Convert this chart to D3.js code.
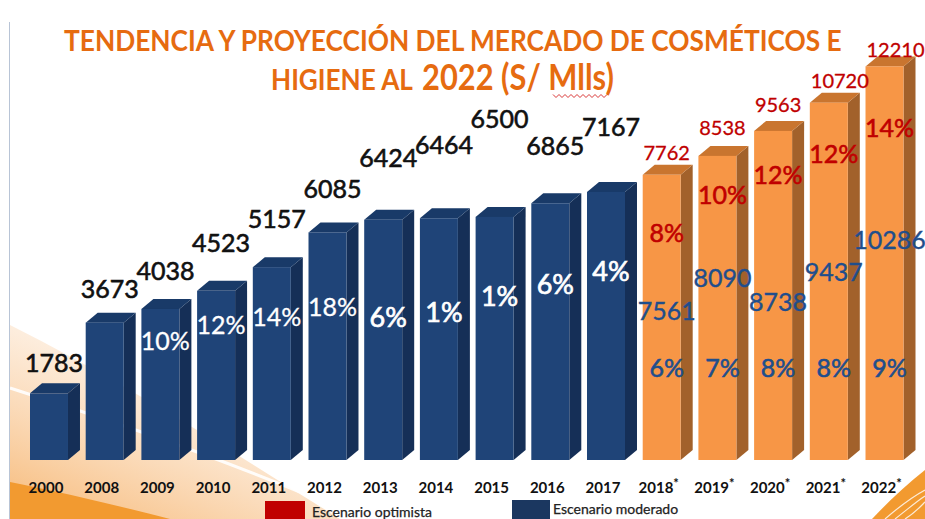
<!DOCTYPE html>
<html>
<head>
<meta charset="utf-8">
<script src="https://cdn.jsdelivr.net/npm/d3@7"></script>
<style>
  body { margin: 0; background: #fff; }
  svg { display: block; font-family: Lato, "Open Sans", sans-serif; }
</style>
</head>
<body>
<div id="chart"></div>
<script>
// Data
const histYears = ["2000", "2008", "2009", "2010", "2011", "2012", "2013", "2014", "2015", "2016", "2017"];
const histValues = [1783, 3673, 4038, 4523, 5157, 6085, 6424, 6464, 6500, 6865, 7167];
const histGrowth = [null, null, "10%", "12%", "14%", "18%", "6%", "1%", "1%", "6%", "4%"];

const projYears = ["2018", "2019", "2020", "2021", "2022"];
const optimistValues = [7762, 8538, 9563, 10720, 12210];
const optimistGrowth = ["8%", "10%", "12%", "12%", "14%"];
const moderateValues = [7561, 8090, 8738, 9437, 10286];
const moderateGrowth = ["6%", "7%", "8%", "8%", "9%"];

const legendLabels = ["Escenario optimista", "Escenario moderado"];

// Layout (label nudges, relative to each bar top)
const histLabelGap = [21, 25, 29, 39, 39, 34, 53, 64, 89, 48, 56];
const histPctDrop = [0, 0, 32, 34, 50, 75, 98, 94, 79, 81, 79];
const optValGap = [15, 21, 19, 15, 9];
const optPctDrop = [58, 39, 44, 51, 62];
const modValDrop = [136, 122, 171, 169, 174];

const width = 925, height = 519;
const baseY = 460;
const depth = { dx: 12, dy: 10 };

const colors = {
    title: "#E66B10",
    navy: "#1F4478", navySide: "#152F57", navyTop: "#193A68",
    orange: "#F79646", orangeSide: "#A2612B", orangeTop: "#C9752F",
    red: "#C00000", blue: "#1F4E8C"
};

const svg = d3.select("#chart")
    .append("svg")
    .attr("width", width)
    .attr("height", height);

const defs = svg.append("defs");
const glow = defs.append("linearGradient")
    .attr("id", "glow")
    .attr("x1", "0%").attr("y1", "100%")
    .attr("x2", "70%").attr("y2", "0%");
glow.append("stop").attr("offset", "0%").attr("stop-color", "#F39A3A").attr("stop-opacity", 0.7);
glow.append("stop").attr("offset", "100%").attr("stop-color", "#F8C08A").attr("stop-opacity", 0);

// Background swoosh
svg.append("path")
    .attr("d", "M10,325 C120,380 230,450 340,519 L10,519 Z")
    .attr("fill", "url(#glow)");
svg.append("path")
    .attr("d", "M10,388 C110,420 210,455 300,492")
    .attr("fill", "none")
    .attr("stroke", "#fff")
    .attr("stroke-width", 3)
    .attr("opacity", 0.9);
svg.append("path")
    .attr("d", "M10,482 C60,492 120,506 170,519 L10,519 Z")
    .attr("fill", "#F29A30");
svg.append("path")
    .attr("d", "M872,519 C888,502 905,486 925,470 L925,519 Z")
    .attr("fill", "#F29A30");
[0, 1, 2].forEach(i => {
    svg.append("path")
        .attr("d", `M${885 + i * 10},519 C${900 + i * 8},${506 + i * 3} ${912 + i * 5},${497 + i * 4} 925,${490 + i * 6}`)
        .attr("fill", "none")
        .attr("stroke", "#fff")
        .attr("stroke-width", 1.2)
        .attr("opacity", 0.8);
});
svg.append("line")
    .attr("x1", 9.5).attr("x2", 9.5)
    .attr("y1", 22).attr("y2", height)
    .attr("stroke", "#B8C4D6");

// Title: each piece squeezed horizontally to the width it takes in the original
function titlePiece(txt, x0, y0, size, targetWidth) {
    const t = svg.append("text")
        .attr("fill", colors.title)
        .style("font-size", size + "px")
        .style("font-weight", "bold")
        .text(txt);
    const k = targetWidth / t.node().getComputedTextLength();
    t.attr("transform", `translate(${x0},${y0}) scale(${k},1)`);
    return t;
}
titlePiece("TENDENCIA Y PROYECCIÓN DEL MERCADO DE COSMÉTICOS E", 64, 51, 29, 778);
titlePiece("HIGIENE AL", 271, 90, 29, 142);
titlePiece("2022 (S/ Mlls)", 422, 90, 36, 192);
// spell-check squiggle under "Mlls"
const squiggle = d3.range(553, 608, 3).map((x, i) => [x, 96 + (i % 2 ? 1.5 : -1.5)]);
svg.append("path")
    .attr("d", d3.line()(squiggle))
    .attr("fill", "none")
    .attr("stroke", "#D42020")
    .attr("stroke-width", 0.9);

// Scales
const allYears = histYears.concat(projYears);
const x = d3.scaleBand()
    .domain(allYears)
    .range([30, 903.5])
    .paddingInner(0.318)
    .paddingOuter(0);
const bw = x.bandwidth();

const yHist = d3.scaleLinear()
    .domain([0, 10000])
    .range([baseY, baseY - 374]);

const yProj = d3.scaleLinear()
    .domain([0, 12210])
    .range([baseY - 96, baseY - 393.6]);

// 3D bar
function drawBar(g, x0, top, front, side, lid) {
    g.append("path")
        .attr("d", `M${x0 + bw},${baseY} L${x0 + bw + depth.dx},${baseY - depth.dy} L${x0 + bw + depth.dx},${top - depth.dy} L${x0 + bw},${top} Z`)
        .attr("fill", side);
    g.append("path")
        .attr("d", `M${x0},${top} L${x0 + depth.dx},${top - depth.dy} L${x0 + bw + depth.dx},${top - depth.dy} L${x0 + bw},${top} Z`)
        .attr("fill", lid);
    g.append("rect")
        .attr("x", x0).attr("y", top)
        .attr("width", bw).attr("height", baseY - top)
        .attr("fill", front);
}

const bars = svg.append("g");
histYears.forEach((yr, i) => {
    drawBar(bars, x(yr), yHist(histValues[i]), colors.navy, colors.navySide, colors.navyTop);
});
projYears.forEach((yr, i) => {
    drawBar(bars, x(yr), yProj(optimistValues[i]), colors.orange, colors.orangeSide, colors.orangeTop);
});

// helper for labels drawn a little heavier
function label(g, x0, y0, txt, fill, size, heavy) {
    return g.append("text")
        .attr("x", x0).attr("y", y0)
        .attr("text-anchor", "middle")
        .attr("fill", fill)
        .attr("stroke", fill)
        .attr("stroke-width", heavy)
        .style("font-size", size + "px")
        .text(txt);
}

// Historic labels
const labels = svg.append("g");
histYears.forEach((yr, i) => {
    const cx = x(yr) + bw / 2 + 5;
    const top = yHist(histValues[i]);
    label(labels, cx, top - histLabelGap[i], histValues[i], "#111", 25, 0.6);
    if (histGrowth[i]) {
        label(labels, cx, top + histPctDrop[i], histGrowth[i], "#fff",
              histGrowth[i].length < 3 ? 27 : 25, histGrowth[i].length < 3 ? 0.7 : 0.3)
            .attr("dy", "0.36em");
    }
});

// Projected labels
projYears.forEach((yr, i) => {
    const cx = x(yr) + bw / 2 + 5;
    const top = yProj(optimistValues[i]);
    label(labels, cx + (optimistValues[i] > 9999 ? 6 : 0), top - optValGap[i], optimistValues[i], colors.red, 20, 0.3);
    label(labels, cx, top + optPctDrop[i], optimistGrowth[i], colors.red, 25, 0.6).attr("dy", "0.36em");
    label(labels, cx, top + modValDrop[i], moderateValues[i], colors.blue, 25, 0.4).attr("dy", "0.36em");
    label(labels, cx, baseY - 92, moderateGrowth[i], colors.blue, 25, 0.6).attr("dy", "0.36em");
});

// X axis
const xAxis = d3.axisBottom(x).tickSize(0).tickPadding(0);
const axisG = svg.append("g")
    .attr("transform", `translate(-3, ${baseY + 22})`)
    .call(xAxis);
axisG.select(".domain").remove();
axisG.selectAll("text")
    .attr("fill", "#111")
    .style("font-family", "Lato, sans-serif")
    .style("font-size", "15px")
    .style("font-weight", "bold")
    .each(function(d) {
        if (projYears.includes(d)) {
            d3.select(this).append("tspan")
                .attr("dy", "-0.35em")
                .style("font-size", "13px")
                .text("*");
        }
    });

// Legend
const legend = svg.append("g");
const legendItems = [
    { label: legendLabels[0], color: colors.red, x: 265, y: 501, w: 40, tx: 312, ty: 517 },
    { label: legendLabels[1], color: "#1B3760", x: 512, y: 500, w: 38, tx: 553, ty: 514 }
];
legendItems.forEach(d => {
    legend.append("rect")
        .attr("x", d.x).attr("y", d.y)
        .attr("width", d.w).attr("height", 20)
        .attr("fill", d.color);
    legend.append("text")
        .attr("x", d.tx).attr("y", d.ty)
        .attr("fill", "#222")
        .attr("stroke", "#222")
        .attr("stroke-width", 0.25)
        .style("font-size", "14px")
        .text(d.label);
});
</script>
</body>
</html>
